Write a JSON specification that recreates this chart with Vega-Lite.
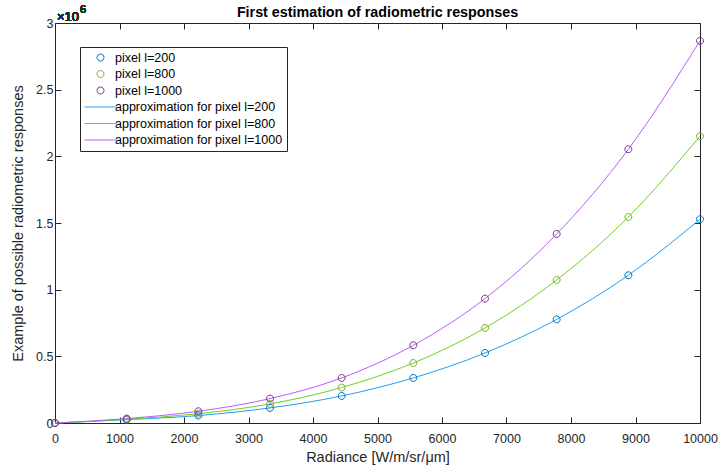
{
  "$schema": "https://vega.github.io/schema/vega-lite/v6.json",
  "width": 645,
  "height": 400,
  "autosize": {"type": "none"},
  "padding": {"left": 55, "top": 23, "right": 21, "bottom": 49},
  "background": "white",
  "title": {
    "text": "First estimation of radiometric responses",
    "font": "Liberation Sans",
    "fontSize": 14.3,
    "fontWeight": "bold",
    "color": "#000000",
    "anchor": "middle",
    "offset": -16
  },
  "data": {
    "values": [
      {"radiance": 0, "response": 0, "pts": "pixel l=200", "fit": "approximation for pixel l=200"},
      {"radiance": 1111.1, "response": 25000, "pts": "pixel l=200", "fit": "approximation for pixel l=200"},
      {"radiance": 2222.2, "response": 56000, "pts": "pixel l=200", "fit": "approximation for pixel l=200"},
      {"radiance": 3333.3, "response": 113000, "pts": "pixel l=200", "fit": "approximation for pixel l=200"},
      {"radiance": 4444.4, "response": 203000, "pts": "pixel l=200", "fit": "approximation for pixel l=200"},
      {"radiance": 5555.6, "response": 338000, "pts": "pixel l=200", "fit": "approximation for pixel l=200"},
      {"radiance": 6666.7, "response": 525000, "pts": "pixel l=200", "fit": "approximation for pixel l=200"},
      {"radiance": 7777.8, "response": 777000, "pts": "pixel l=200", "fit": "approximation for pixel l=200"},
      {"radiance": 8888.9, "response": 1108000, "pts": "pixel l=200", "fit": "approximation for pixel l=200"},
      {"radiance": 10000, "response": 1528000, "pts": "pixel l=200", "fit": "approximation for pixel l=200"},
      {"radiance": 0, "response": 0, "pts": "pixel l=800", "fit": "approximation for pixel l=800"},
      {"radiance": 1111.1, "response": 28000, "pts": "pixel l=800", "fit": "approximation for pixel l=800"},
      {"radiance": 2222.2, "response": 70000, "pts": "pixel l=800", "fit": "approximation for pixel l=800"},
      {"radiance": 3333.3, "response": 143000, "pts": "pixel l=800", "fit": "approximation for pixel l=800"},
      {"radiance": 4444.4, "response": 266000, "pts": "pixel l=800", "fit": "approximation for pixel l=800"},
      {"radiance": 5555.6, "response": 450000, "pts": "pixel l=800", "fit": "approximation for pixel l=800"},
      {"radiance": 6666.7, "response": 713000, "pts": "pixel l=800", "fit": "approximation for pixel l=800"},
      {"radiance": 7777.8, "response": 1073000, "pts": "pixel l=800", "fit": "approximation for pixel l=800"},
      {"radiance": 8888.9, "response": 1545000, "pts": "pixel l=800", "fit": "approximation for pixel l=800"},
      {"radiance": 10000, "response": 2151000, "pts": "pixel l=800", "fit": "approximation for pixel l=800"},
      {"radiance": 0, "response": 0, "pts": "pixel l=1000", "fit": "approximation for pixel l=1000"},
      {"radiance": 1111.1, "response": 33000, "pts": "pixel l=1000", "fit": "approximation for pixel l=1000"},
      {"radiance": 2222.2, "response": 88000, "pts": "pixel l=1000", "fit": "approximation for pixel l=1000"},
      {"radiance": 3333.3, "response": 183000, "pts": "pixel l=1000", "fit": "approximation for pixel l=1000"},
      {"radiance": 4444.4, "response": 338000, "pts": "pixel l=1000", "fit": "approximation for pixel l=1000"},
      {"radiance": 5555.6, "response": 583000, "pts": "pixel l=1000", "fit": "approximation for pixel l=1000"},
      {"radiance": 6666.7, "response": 933000, "pts": "pixel l=1000", "fit": "approximation for pixel l=1000"},
      {"radiance": 7777.8, "response": 1418000, "pts": "pixel l=1000", "fit": "approximation for pixel l=1000"},
      {"radiance": 8888.9, "response": 2053000, "pts": "pixel l=1000", "fit": "approximation for pixel l=1000"},
      {"radiance": 10000, "response": 2866000, "pts": "pixel l=1000", "fit": "approximation for pixel l=1000"}
    ]
  },
  "config": {
    "view": {"stroke": "#262626", "strokeWidth": 1},
    "axis": {
      "grid": false,
      "domain": false,
      "labelFlush": false,
      "labelOverlap": false,
      "tickColor": "#262626",
      "tickSize": -6,
      "tickWidth": 1,
      "labelFont": "Liberation Sans",
      "labelFontSize": 12.5,
      "labelColor": "#262626",
      "titleFont": "Liberation Sans",
      "titleFontSize": 14.5,
      "titleFontWeight": "normal",
      "titleColor": "#262626"
    },
    "legend": {
      "orient": "none",
      "legendX": 25,
      "legendY": 24,
      "strokeColor": "#262626",
      "fillColor": "white",
      "padding": 4,
      "labelFont": "Liberation Sans",
      "labelFontSize": 12.5,
      "labelColor": "#000000",
      "labelLimit": 300,
      "symbolSize": 144,
      "symbolStrokeWidth": 1,
      "symbolOffset": 10,
      "labelOffset": 8,
      "rowPadding": 3.5
    }
  },
  "layer": [
    {
      "mark": {"type": "line", "interpolate": "monotone", "strokeWidth": 1},
      "encoding": {
        "x": {
          "field": "radiance", "type": "quantitative",
          "scale": {"domain": [0, 10000], "nice": false, "zero": false},
          "axis": {"orient": "top", "labels": false, "title": null, "values": [0, 1000, 2000, 3000, 4000, 5000, 6000, 7000, 8000, 9000, 10000]}
        },
        "y": {
          "field": "response", "type": "quantitative",
          "scale": {"domain": [0, 3000000], "nice": false, "zero": false},
          "axis": {"orient": "right", "labels": false, "title": null, "values": [0, 500000, 1000000, 1500000, 2000000, 2500000, 3000000]}
        },
        "color": {
          "field": "fit", "type": "nominal",
          "scale": {
            "domain": ["pixel l=200", "pixel l=800", "pixel l=1000", "approximation for pixel l=200", "approximation for pixel l=800", "approximation for pixel l=1000"],
            "range": ["#0072BD", "#77AC30", "#7E2F8E", "#1F9EF5", "#6ED220", "#B85CFF"]
          },
          "legend": {"title": null}
        }
      }
    },
    {
      "mark": {"type": "point", "filled": false, "size": 144, "strokeWidth": 1, "opacity": 1},
      "encoding": {
        "x": {
          "field": "radiance", "type": "quantitative",
          "scale": {"domain": [0, 10000], "nice": false, "zero": false},
          "axis": {"orient": "bottom", "title": "Radiance [W/m/sr/μm]", "format": "d", "labelPadding": 15, "titlePadding": 6, "values": [0, 1000, 2000, 3000, 4000, 5000, 6000, 7000, 8000, 9000, 10000]}
        },
        "y": {
          "field": "response", "type": "quantitative",
          "scale": {"domain": [0, 3000000], "nice": false, "zero": false},
          "axis": {"orient": "left", "title": "Example of possible radiometric responses", "labelExpr": "datum.value / 1000000", "labelPadding": 8, "titlePadding": 10, "values": [0, 500000, 1000000, 1500000, 2000000, 2500000, 3000000]}
        },
        "color": {"field": "pts", "type": "nominal", "legend": {"title": null}},
        "shape": {
          "field": "pts", "type": "nominal",
          "scale": {
            "domain": ["pixel l=200", "pixel l=800", "pixel l=1000", "approximation for pixel l=200", "approximation for pixel l=800", "approximation for pixel l=1000"],
            "range": [
              "M-0.58,0A0.58,0.58 0 1,1 0.58,0A0.58,0.58 0 1,1 -0.58,0Z",
              "M-0.58,0A0.58,0.58 0 1,1 0.58,0A0.58,0.58 0 1,1 -0.58,0Z",
              "M-0.58,0A0.58,0.58 0 1,1 0.58,0A0.58,0.58 0 1,1 -0.58,0Z",
              "M-2.67,0L2.67,0",
              "M-2.67,0L2.67,0",
              "M-2.67,0L2.67,0"
            ]
          },
          "legend": {"title": null}
        }
      }
    },
    {
      "mark": {"type": "text", "text": "×10", "font": "Liberation Sans", "fontSize": 13, "color": "#262626", "align": "left", "baseline": "middle", "dx": 2, "dy": -6},
      "encoding": {
        "x": {"datum": 0, "type": "quantitative", "axis": null},
        "y": {"datum": 3000000, "type": "quantitative", "axis": null}
      }
    },
    {
      "mark": {"type": "text", "text": "6", "font": "Liberation Sans", "fontSize": 11, "color": "#262626", "align": "left", "baseline": "middle", "dx": 25, "dy": -13},
      "encoding": {
        "x": {"datum": 0, "type": "quantitative", "axis": null},
        "y": {"datum": 3000000, "type": "quantitative", "axis": null}
      }
    }
  ]
}
